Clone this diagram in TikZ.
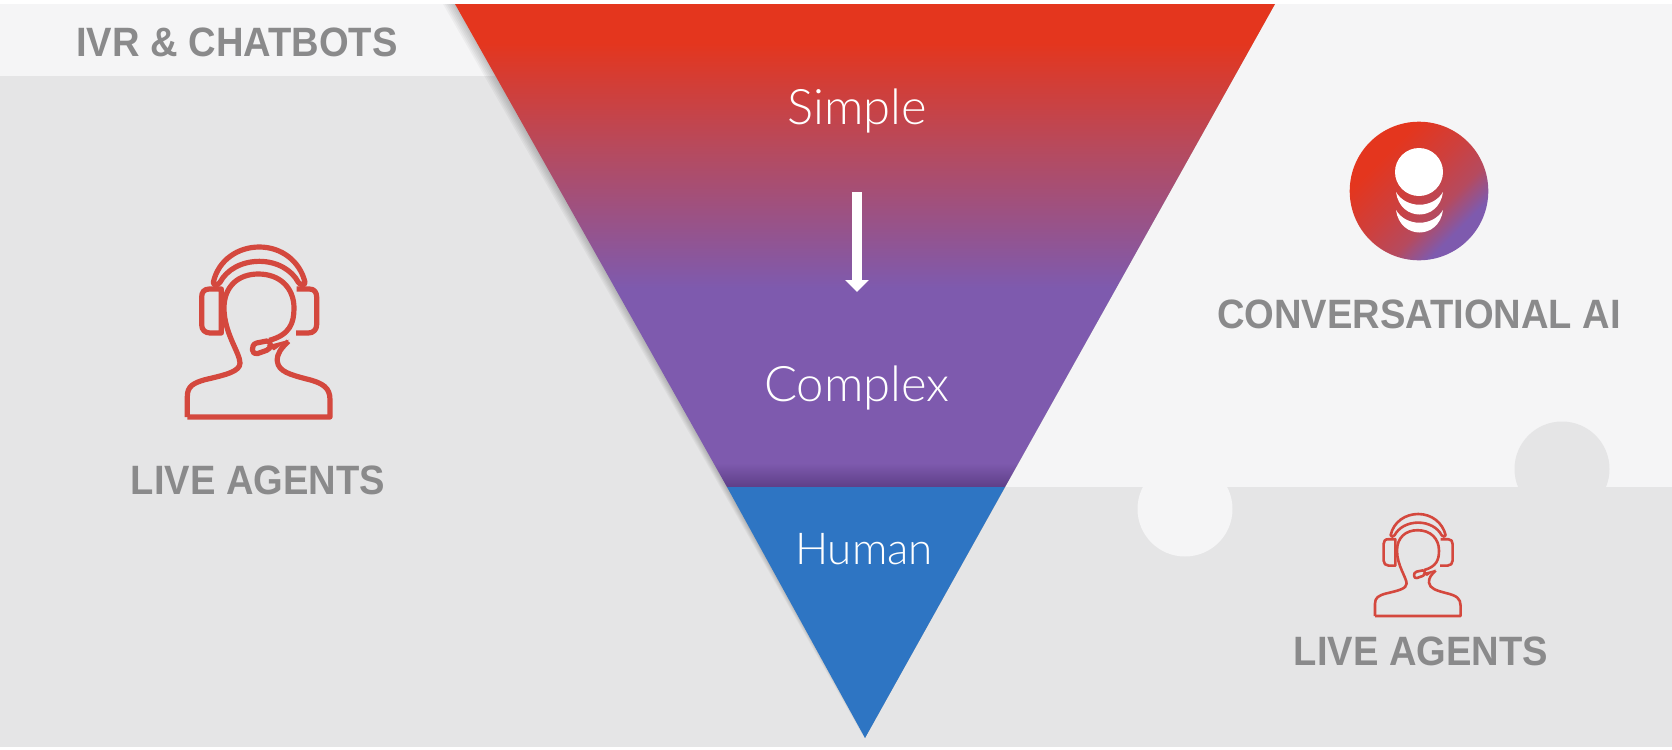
\documentclass[tikz,border=0pt]{standalone}
\usepackage{fontspec}
\usetikzlibrary{arrows.meta,positioning}
\newfontfamily\labelfont[FakeStretch=.93]{Liberation Sans}
\newfontfamily\funnelfont[UprightFont={* Light}]{Lato}
\definecolor{panelL}{HTML}{F5F5F6}
\definecolor{panelD}{HTML}{E5E5E6}
\definecolor{hotred}{HTML}{E4361E}
\definecolor{midred}{HTML}{B64A5E}
\definecolor{violet}{HTML}{7E5AAE}
\definecolor{violetD}{HTML}{5E3F88}
\definecolor{humanB}{HTML}{2E75C3}
\definecolor{iconred}{HTML}{D4483E}
\definecolor{labelG}{HTML}{8A8A8B}
\pgfdeclareverticalshading{funnelshade}{100bp}{color(0bp)=(violetD); color(25bp)=(violetD); color(27.5bp)=(violet); color(45.6bp)=(violet); color(60bp)=(midred); color(71bp)=(hotred); color(100bp)=(hotred)}
\pgfdeclareverticalshading{badgeshade}{100bp}{color(0bp)=(violet); color(30bp)=(violet); color(40bp)=(midred); color(52bp)=(midred!50!hotred); color(68bp)=(hotred); color(100bp)=(hotred)}
\tikzset{
	MyLabel/.style={font=\labelfont\bfseries\fontsize{20.5}{24}\selectfont, text=labelG, inner sep=0pt},
	MyFunnel/.style={font=\funnelfont\fontsize{24.5}{28}\selectfont, text=white, inner sep=0pt},
	agent/.pic={
		\begin{scope}[scale=1/3, shift={(-327,-337)}, draw=iconred, line join=round]
		% head and shoulders
		\draw (112,592) -- (112,530) .. controls (112,500) and (130,490) .. (165,480)
		.. controls (230,465) and (270,455) .. (270,430)
		.. controls (270,400) and (222,340) .. (222,265)
		.. controls (222,200) and (265,163) .. (325,163)
		.. controls (390,163) and (432,205) .. (432,265)
		.. controls (432,310) and (420,345) .. (358,362);
		\draw (415,365) .. controls (395,385) and (380,400) .. (382,425)
		.. controls (385,455) and (420,465) .. (470,478)
		.. controls (520,490) and (540,505) .. (540,540) -- (540,592) -- (112,592);
		% headband
		\draw (190,188) .. controls (205,120) and (265,82) .. (328,82)
		.. controls (395,82) and (450,125) .. (465,188)
		.. controls (465,198) and (452,198) .. (445,188)
		.. controls (425,150) and (380,125) .. (328,125)
		.. controls (275,125) and (230,150) .. (210,188)
		.. controls (203,198) and (190,198) .. (190,188) -- cycle;
		% ear cups
		\draw (214,208) -- (178,208) .. controls (162,208) and (155,218) .. (155,232) -- (155,315)
		.. controls (155,330) and (165,340) .. (180,340) -- (214,340) -- cycle;
		\draw (440,208) -- (478,208) .. controls (493,208) and (500,218) .. (500,232) -- (500,315)
		.. controls (500,330) and (490,340) .. (475,340) -- (438,340);
		% microphone
		\draw (320,370) -- (350,364) .. controls (365,362) and (365,388) .. (350,392) -- (322,402)
		.. controls (305,408) and (300,375) .. (320,370) -- cycle;
		\fill[iconred] (350,378) -- (418,360) -- (372,392) -- cycle;
		\end{scope}
	}
}
\begin{document}
\begin{tikzpicture}[x=0.5pt, y=-0.5pt]
	\useasboundingbox (0,0) rectangle (1672,750);
	\fill[white] (0,0) rectangle (1672,750);
	% panels
	\fill[panelD] (0,4) rectangle (1672,747);
	\fill[panelL] (0,4) rectangle (520,76);
	\fill[panelL] (800,4) rectangle (1672,487);
	\fill[panelL] (1185,509) circle (47.5);
	\fill[panelD] (1562,469) circle (47.5);
	% soft edge of the funnel
	\foreach \d in {2,4,6,8,10,12}
	\fill[black, opacity=0.035] (455-\d,4) -- (1275,4) -- (865,738) -- (865-0.3*\d,733) -- cycle;
	% funnel
	\shade[shading=funnelshade] (455,4) -- (1275,4) -- (1005,487) -- (727,487) -- cycle;
	\fill[humanB] (727,487) -- (1005,487) -- (865,738) -- cycle;
	% texts
	\node[MyFunnel] (simple) at (857,111) {Simple};
	\node[MyFunnel] (complex) at (857,388) {Complex};
	\node[MyFunnel, font=\funnelfont\fontsize{22}{26}\selectfont] (human) at (864,549) {Human};
	\node[MyLabel] (ivr) at (237,42) {IVR \& CHATBOTS};
	\node[MyLabel] (agentsL) at (258,480) {LIVE AGENTS};
	\node[MyLabel] (convai) at (1419,314) {CONVERSATIONAL AI};
	\node[MyLabel] (agentsR) at (1421,651) {LIVE AGENTS};
	% arrow
	\coordinate (arrowS) at (857,192);
	\coordinate (arrowE) at (857,292);
	\draw[white, line width=5pt, -{Triangle[length=6pt, width=11.5pt]}] (arrowS) -- (arrowE);
	% icons
	\pic[line width=2.6pt] (bigagent) at (259,332) {agent};
	\pic[line width=1.3pt, scale=0.6] (smallagent) at (1418,565) {agent};
	% conversational badge
	\shade[shading=badgeshade, shading angle=45] (1419,191) circle (69.3);
	\fill[white] (1419,172) circle (24);
	\foreach \s in {0,18}
	\fill[white] (1396,192+\s) .. controls (1400,222+\s) and (1439,222+\s) .. (1443,192+\s)
	.. controls (1433,209+\s) and (1406,209+\s) .. (1396,192+\s) -- cycle;
\end{tikzpicture}
\end{document}
